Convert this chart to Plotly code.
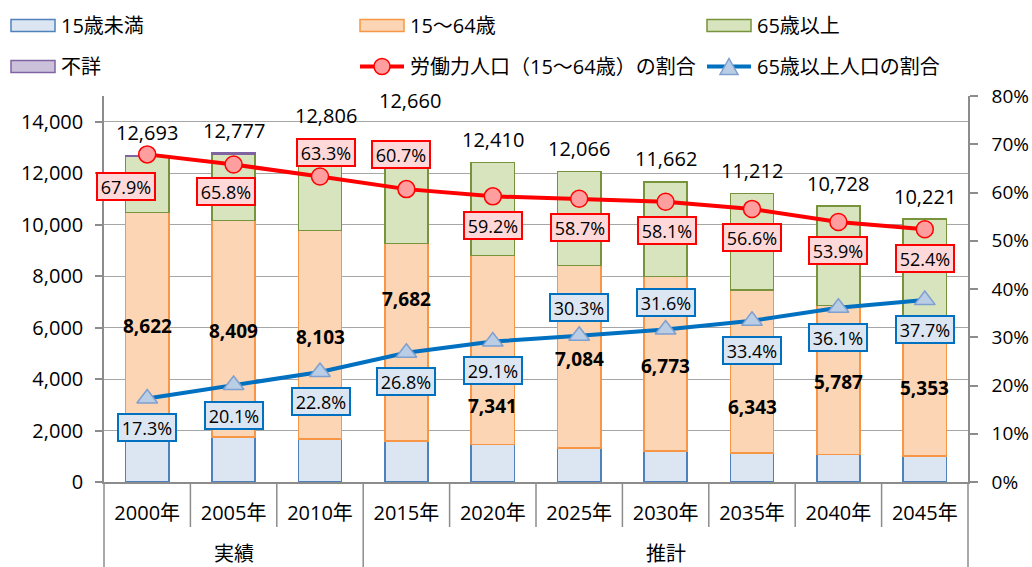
import plotly.graph_objects as go

# ---------------- data ----------------
years = ["2000年", "2005年", "2010年", "2015年", "2020年",
         "2025年", "2030年", "2035年", "2040年", "2045年"]
groups = ["実績", "推計"]
group_sizes = [3, 7]
under15 = [1847, 1752, 1680, 1585, 1458, 1325, 1204, 1124, 1073, 1012]
age15_64 = [8622, 8409, 8103, 7682, 7341, 7084, 6773, 6343, 5787, 5353]
over65 = [2201, 2567, 2925, 3393, 3611, 3657, 3685, 3745, 3868, 3856]
unknown = [23, 48, 98, 0, 0, 0, 0, 0, 0, 0]
totals = [12693, 12777, 12806, 12660, 12410, 12066, 11662, 11212, 10728, 10221]
labor_ratio = [67.9, 65.8, 63.3, 60.7, 59.2, 58.7, 58.1, 56.6, 53.9, 52.4]
elderly_ratio = [17.3, 20.1, 22.8, 26.8, 29.1, 30.3, 31.6, 33.4, 36.1, 37.7]

legend_names = ["15歳未満", "15〜64歳", "65歳以上", "不詳",
                "労働力人口（15〜64歳）の割合", "65歳以上人口の割合"]

# ---------------- label placement (pixel offsets, style only) ----------------
total_shift_y = [23, 23, 37, 56, 23, 23, 23, 23, 22, 22]
total_shift_x = [0, 0, 6, 4, 0, 0, 0, 0, 0, 0]
mid_shift_y = [-2, -2, -2, 43, -56, -2, -2, -36, -2, -1]
red_shift_x = [-21, -8, 6, -5, 0, 1, 1, 0, 0, 0]
red_shift_y = [-32, -27, 24, 35, -29, -29, -29, -29, -29, -29]
blue_shift_x = [0, 0, 1, 0, 0, 0, 0, 0, 0, 0]
blue_shift_y = [-29, -30, -30, -29, -29, 28, 27, -30, -30, -29]

# ---------------- style ----------------
FONT = "Open Sans, 'Noto Sans CJK JP', sans-serif"
JFONT = "'Noto Sans CJK JP', sans-serif"
C_BLUE_F, C_BLUE_L = "#DCE6F2", "#4F81BD"
C_ORG_F, C_ORG_L = "#FCD5B5", "#F79646"
C_GRN_F, C_GRN_L = "#D7E4BD", "#77933C"
C_PUR_F, C_PUR_L = "#CCC1DA", "#8064A2"
C_RED = "#FF0000"
C_LBLUE = "#0070C0"
GRID = "#A6A6A6"
AXIS = "#8C8C8C"

FIG_W, FIG_H = 1032, 567
# plot area in window pixels
L, R, T, B = 104, 968, 96, 482
W, H = R - L, B - T


def px2x(px):
    return (px - L) / W


def py2y(py):
    return (B - py) / H


fig = go.Figure()

bar_series = [
    (under15, legend_names[0], C_BLUE_F, C_BLUE_L),
    (age15_64, legend_names[1], C_ORG_F, C_ORG_L),
    (over65, legend_names[2], C_GRN_F, C_GRN_L),
    (unknown, legend_names[3], C_PUR_F, C_PUR_L),
]
for vals, name, fc, lc in bar_series:
    lw = [1.5 if v > 0 else 0 for v in vals]
    fig.add_trace(go.Bar(
        x=years, y=vals, name=name, width=0.5,
        marker=dict(color=fc, line=dict(color=lc, width=lw)),
        showlegend=False, hoverinfo="skip"))

fig.add_trace(go.Scatter(
    x=years, y=labor_ratio, yaxis="y2", mode="lines+markers",
    name=legend_names[4], showlegend=False, hoverinfo="skip",
    line=dict(color=C_RED, width=4),
    marker=dict(symbol="circle", size=17, color="#FF9E9E",
                line=dict(color=C_RED, width=1.5))))
fig.add_trace(go.Scatter(
    x=years, y=elderly_ratio, yaxis="y2", mode="lines+markers",
    name=legend_names[5], showlegend=False, hoverinfo="skip",
    line=dict(color=C_LBLUE, width=4),
    marker=dict(symbol="triangle-up", size=18, color="#B9CDE5",
                line=dict(color="#7F9FCF", width=1.5))))

annotations = []
shapes = []

# totals above the bars
for i, yr in enumerate(years):
    annotations.append(dict(
        x=yr, y=totals[i], xref="x", yref="y", text=f"{totals[i]:,}",
        showarrow=False, xshift=total_shift_x[i], yshift=total_shift_y[i],
        font=dict(family=FONT, size=20, color="black")))

# 15-64 values (bold) in the middle of the orange segment
for i, yr in enumerate(years):
    annotations.append(dict(
        x=yr, y=under15[i] + age15_64[i] / 2, xref="x", yref="y",
        text=f"<b>{age15_64[i]:,}</b>", showarrow=False,
        yshift=mid_shift_y[i],
        font=dict(family=FONT, size=19, color="black")))

# ratio labels
for i, yr in enumerate(years):
    annotations.append(dict(
        x=yr, y=labor_ratio[i], xref="x", yref="y2",
        text=f"{labor_ratio[i]:.1f}%", showarrow=False,
        xshift=red_shift_x[i], yshift=red_shift_y[i],
        width=52, height=21, borderpad=2, borderwidth=2,
        bordercolor=C_RED, bgcolor="#FFD9D9",
        font=dict(family=FONT, size=18, color="black")))
    annotations.append(dict(
        x=yr, y=elderly_ratio[i], xref="x", yref="y2",
        text=f"{elderly_ratio[i]:.1f}%", showarrow=False,
        xshift=blue_shift_x[i], yshift=blue_shift_y[i],
        width=52, height=21, borderpad=2, borderwidth=2,
        bordercolor=C_LBLUE, bgcolor=C_BLUE_F,
        font=dict(family=FONT, size=18, color="black")))

# category separators and group labels below the axis
n = len(years)
start = 0
for g, size in zip(groups, group_sizes):
    x0 = start / n
    x1 = (start + size) / n
    annotations.append(dict(
        x=(x0 + x1) / 2, y=py2y(552), xref="paper", yref="paper",
        xanchor="center", yanchor="middle",
        text=g, showarrow=False,
        font=dict(family=JFONT, size=20, color="black")))
    start += size
boundaries = [0]
acc = 0
for size in group_sizes:
    acc += size
    boundaries.append(acc)
for i in range(n + 1):
    long_line = i in boundaries
    shapes.append(dict(
        type="line", xref="paper", yref="paper",
        x0=i / n, x1=i / n, y0=0, y1=py2y(575 if long_line else 527),
        line=dict(color=AXIS, width=1.5)))

# ---------------- manual legend ----------------
legend_cols = [11, 360, 707]
legend_rows = [25.5, 66.5]
sw_w, sw_h = 44, 12
for k, name in enumerate(legend_names):
    r, c = divmod(k, 3)
    lx = legend_cols[c]
    ly = legend_rows[r]
    if k < 4:
        fc, lc = bar_series[k][2], bar_series[k][3]
        shapes.append(dict(
            type="rect", xref="paper", yref="paper",
            x0=px2x(lx), x1=px2x(lx + sw_w),
            y0=py2y(ly - sw_h / 2), y1=py2y(ly + sw_h / 2),
            fillcolor=fc, line=dict(color=lc, width=1.5)))
    else:
        col = C_RED if k == 4 else C_LBLUE
        shapes.append(dict(
            type="line", xref="paper", yref="paper",
            x0=px2x(lx), x1=px2x(lx + sw_w), y0=py2y(ly), y1=py2y(ly),
            line=dict(color=col, width=4)))
        cx = lx + sw_w / 2
        if k == 4:
            rr = 8
            shapes.append(dict(
                type="circle", xref="paper", yref="paper",
                x0=px2x(cx - rr), x1=px2x(cx + rr),
                y0=py2y(ly + rr), y1=py2y(ly - rr),
                fillcolor="#FF9E9E", line=dict(color=C_RED, width=1.5)))
        else:
            hw, hh = 9, 8
            path = (f"M {px2x(cx - hw)} {py2y(ly + hh)} "
                    f"L {px2x(cx + hw)} {py2y(ly + hh)} "
                    f"L {px2x(cx)} {py2y(ly - hh)} Z")
            shapes.append(dict(
                type="path", xref="paper", yref="paper", path=path,
                fillcolor="#B9CDE5", line=dict(color="#7F9FCF", width=1.5)))
    annotations.append(dict(
        x=px2x(lx + sw_w + 4), y=py2y(ly), xref="paper", yref="paper",
        xanchor="left", yanchor="middle", text=name, showarrow=False,
        font=dict(family=FONT, size=20, color="black")))

fig.update_layout(
    width=FIG_W, height=FIG_H, autosize=False,
    margin=dict(l=L, r=FIG_W - R, t=T, b=FIG_H - B, pad=0,
                autoexpand=False),
    paper_bgcolor="white", plot_bgcolor="white",
    barmode="stack", bargap=0.5, showlegend=False,
    font=dict(family=FONT, size=20, color="black"),
    xaxis=dict(
        type="category", range=[-0.5, 9.5], automargin=False,
        showline=True, linecolor=AXIS, linewidth=1.5,
        ticks="", showgrid=False, ticklabelstandoff=12,
        tickfont=dict(family=FONT, size=20, color="black")),
    yaxis=dict(
        range=[0, 15000], tickvals=list(range(0, 14001, 2000)),
        automargin=False,
        tickformat=",", showgrid=True, gridcolor=GRID, gridwidth=1.3,
        showline=True, linecolor=AXIS, linewidth=1.5,
        ticks="outside", ticklen=7, tickcolor=AXIS, tickwidth=1.5,
        zeroline=False, ticklabelstandoff=8,
        tickfont=dict(family=FONT, size=20, color="black")),
    yaxis2=dict(
        overlaying="y", side="right", range=[0, 80], dtick=10,
        automargin=False,
        ticksuffix="%", showgrid=False,
        showline=True, linecolor=AXIS, linewidth=1.5,
        ticks="outside", ticklen=8, tickcolor=AXIS, tickwidth=1.5,
        zeroline=False, ticklabelstandoff=10,
        tickfont=dict(family=FONT, size=19, color="black")),
    annotations=annotations,
    shapes=shapes,
)

fig.write_html(
    "out.html",
    config={"displayModeBar": False},
    post_script="document.body.style.margin='0px';"
                "document.body.style.overflow='hidden';")
